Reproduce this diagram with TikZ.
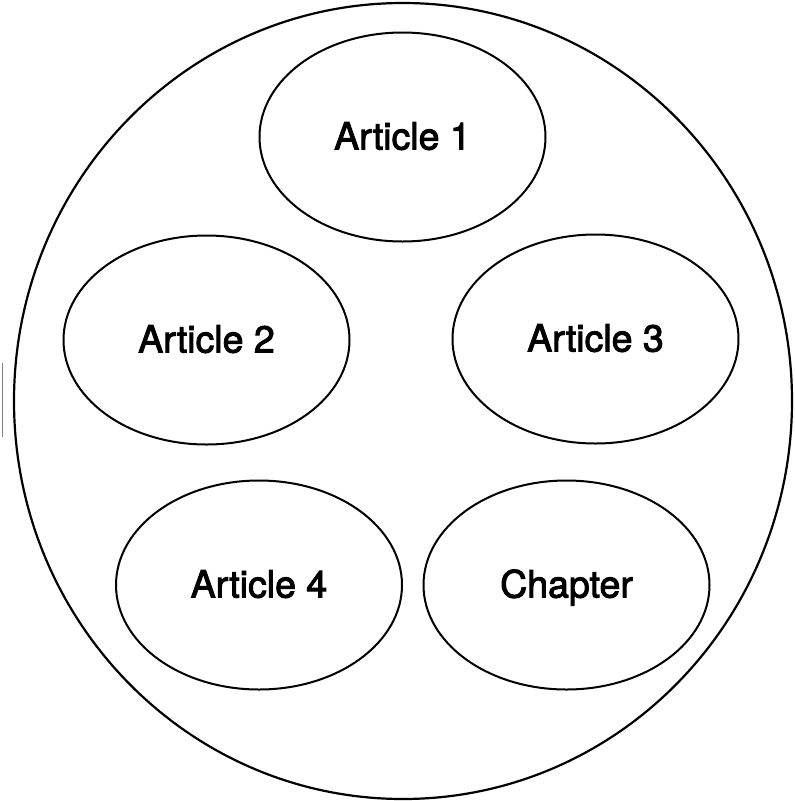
\documentclass[tikz,border=0pt]{standalone}
\usepackage{fontspec}
\setmainfont{TeX Gyre Heros}[FakeBold=2.6]
\usetikzlibrary{shapes.geometric}

\begin{document}
\begin{tikzpicture}[x=1pt, y=-1pt,
    collection/.style={draw, ellipse, line width=2.2pt, minimum width=778pt, minimum height=796pt},
    article/.style={draw, ellipse, line width=2pt, minimum width=286pt, minimum height=209pt,
        text height=25pt, text depth=0pt, font=\fontsize{37.5}{40}\selectfont}
]
\useasboundingbox (0,0) rectangle (795,801);

% Outer collection
\node[collection] (thesis) at (403,401) {};

% Articles
\node[article] (art1) at (402.5,137) {Article 1};
\node[article] (art2) at (206.5,340) {Article 2};
\node[article] (art3) at (595.5,339) {Article 3};
\node[article] (art4) at (259,585) {Article 4};
\node[article] (chap) at (566.5,585) {Chapter};

% Stray edge at the left border
\coordinate (edgetop) at (2.5,363);
\coordinate (edgebot) at (2.5,437);
\draw[gray, line width=0.6pt] (edgetop) -- (edgebot);
\end{tikzpicture}
\end{document}
